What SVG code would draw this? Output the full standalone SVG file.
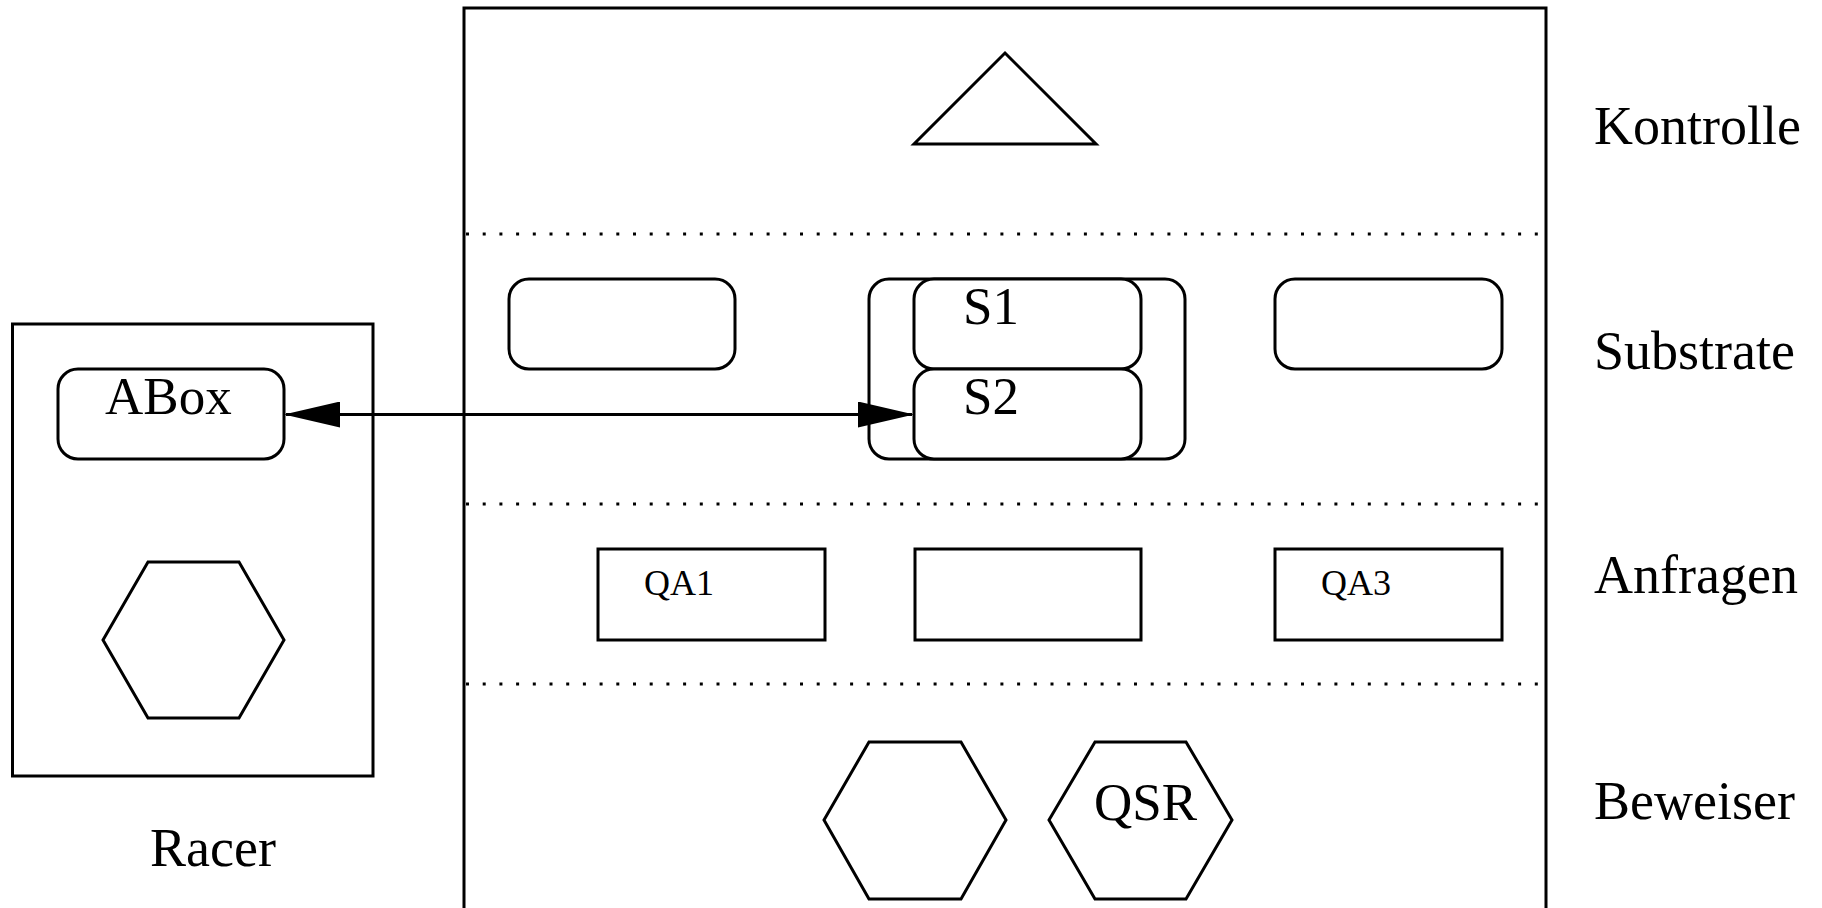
<svg xmlns="http://www.w3.org/2000/svg" width="1822" height="908" viewBox="0 0 1822 908">
  <style>
    .frame { fill: none; stroke: #000; stroke-width: 3; }
    .node { fill: #fff; stroke: #000; stroke-width: 3; stroke-linejoin: miter; }
    .sep { stroke: #000; stroke-width: 3; stroke-dasharray: 3 13.7; fill: none; }
    .lbl { font-family: "Liberation Serif", "Times New Roman", serif; font-size: 53px; fill: #000; }
    .cap { font-family: "Liberation Serif", "Times New Roman", serif; font-size: 54px; fill: #000; }
    .small { font-family: "Liberation Serif", "Times New Roman", serif; font-size: 36px; fill: #000; }
    .edge { stroke: #000; stroke-width: 3; fill: none; }
  </style>
  <defs>
    <marker id="arrow" viewBox="0 0 56 26" markerWidth="56" markerHeight="26" markerUnits="userSpaceOnUse" refX="54" refY="13" orient="auto-start-reverse">
      <path d="M0,0 L56,13 L0,26 z" fill="#000"/>
    </marker>
  </defs>
  <rect width="1822" height="908" fill="#fff"/>

  <!-- Racer system -->
  <g id="racer">
    <rect class="frame" x="12.5" y="324" width="360.5" height="452"/>
    <text class="cap" x="150" y="866">Racer</text>
  </g>
  <g id="abox">
    <rect class="node" x="58" y="369" width="226" height="90" rx="20"/>
    <text class="lbl" x="105" y="414">ABox</text>
  </g>
  <g id="racer-reasoner">
    <polygon class="node" points="148,562 239,562 284,640 239,718 148,718 103,640"/>
  </g>

  <!-- Layered architecture frame (open at the bottom) -->
  <g id="layers">
    <path class="frame" d="M464,920 V8 H1546 V920"/>
    <line class="sep" x1="466" y1="234" x2="1542" y2="234"/>
    <line class="sep" x1="466" y1="504" x2="1542" y2="504"/>
    <line class="sep" x1="466" y1="684" x2="1542" y2="684"/>
  </g>

  <!-- Layer captions -->
  <g id="captions">
    <text class="cap" x="1594" y="144">Kontrolle</text>
    <text class="cap" x="1594" y="369">Substrate</text>
    <text class="cap" x="1594" y="593">Anfragen</text>
    <text class="cap" x="1594" y="819">Beweiser</text>
  </g>

  <!-- Control layer -->
  <g id="control">
    <polygon class="node" points="1005,53 1096,144 914,144"/>
  </g>

  <!-- Substrate layer -->
  <g id="substrate-left">
    <rect class="node" x="509" y="279" width="226" height="90" rx="20"/>
  </g>
  <g id="substrate-group">
    <rect class="node" x="869" y="279" width="316" height="180" rx="20"/>
  </g>
  <g id="s1">
    <rect class="node" x="914" y="279" width="227" height="90" rx="20"/>
    <text class="lbl" x="963" y="324">S1</text>
  </g>
  <g id="s2">
    <rect class="node" x="914" y="369" width="227" height="90" rx="20"/>
    <text class="lbl" x="963" y="414">S2</text>
  </g>
  <g id="substrate-right">
    <rect class="node" x="1275" y="279" width="227" height="90" rx="20"/>
  </g>

  <!-- Query layer -->
  <g id="qa1">
    <rect class="node" x="598" y="549" width="227" height="91"/>
    <text class="small" x="644" y="595">QA1</text>
  </g>
  <g id="qa2">
    <rect class="node" x="915" y="549" width="226" height="91"/>
  </g>
  <g id="qa3">
    <rect class="node" x="1275" y="549" width="227" height="91"/>
    <text class="small" x="1321" y="595">QA3</text>
  </g>

  <!-- Reasoner layer -->
  <g id="reasoner">
    <polygon class="node" points="869,742 961,742 1006,820 961,899 869,899 824,820"/>
  </g>
  <g id="qsr">
    <polygon class="node" points="1095,742 1186,742 1232,820 1186,899 1095,899 1049,820"/>
    <text class="lbl" x="1094" y="820">QSR</text>
  </g>

  <!-- Connectors -->
  <g id="connectors">
    <line class="edge" x1="286" y1="414.5" x2="912" y2="414.5" marker-start="url(#arrow)" marker-end="url(#arrow)"/>
  </g>
</svg>
